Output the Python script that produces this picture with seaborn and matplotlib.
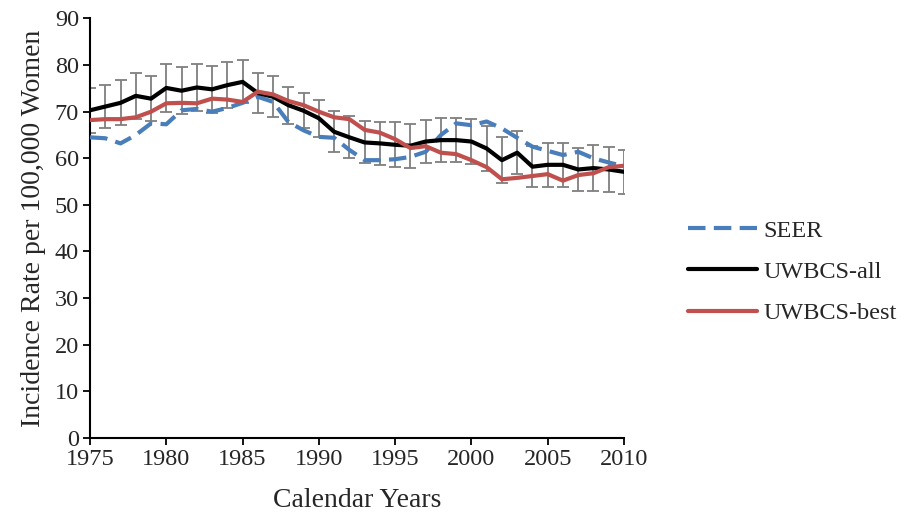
import numpy as np
import pandas as pd
import matplotlib
matplotlib.use("Agg")
import matplotlib.pyplot as plt
import seaborn as sns

years = list(range(1975, 2011))

seer = [64.5, 64.3, 63.2, 65.0, 67.5, 67.3, 70.3, 70.6, 70.0, 70.8, 71.9, 73.2,
        72.1, 67.8, 66.0, 64.6, 64.4, 61.8, 59.6, 59.6, 59.8, 60.3, 61.4, 65.0,
        67.5, 67.1, 67.9, 66.4, 64.4, 62.5, 61.6, 60.7, 61.4, 60.0, 59.1, 58.3]

uwbcs_all = [70.3, 71.1, 71.9, 73.4, 72.8, 75.1, 74.5, 75.2, 74.8, 75.7, 76.4, 74.0,
             73.2, 71.4, 70.2, 68.6, 65.7, 64.5, 63.4, 63.2, 62.9, 62.7, 63.6, 63.9,
             63.9, 63.6, 62.1, 59.6, 61.2, 58.2, 58.6, 58.6, 57.6, 57.9, 57.6, 57.1]

uwbcs_best = [68.2, 68.4, 68.4, 68.8, 70.0, 71.8, 71.9, 71.8, 72.8, 72.6, 72.1, 74.3,
              73.7, 72.3, 71.4, 70.0, 68.8, 68.4, 66.1, 65.5, 64.1, 62.2, 62.6, 61.2,
              60.9, 59.6, 58.1, 55.5, 55.8, 56.2, 56.6, 55.2, 56.4, 56.8, 58.1, 58.4]

uwbcs_all_err = [4.8, 4.7, 4.8, 4.9, 4.9, 5.1, 5.0, 5.0, 5.0, 4.9, 4.6, 4.3,
                 4.4, 4.0, 3.8, 4.0, 4.4, 4.5, 4.5, 4.6, 4.8, 4.7, 4.6, 4.7,
                 4.8, 4.8, 4.8, 4.9, 4.6, 4.4, 4.7, 4.7, 4.6, 4.9, 4.8, 4.7]

series_names = ["SEER", "UWBCS-all", "UWBCS-best"]
x_ticks = [1975, 1980, 1985, 1990, 1995, 2000, 2005, 2010]
y_ticks = list(range(0, 91, 10))

df = pd.DataFrame({
    "year": years * 3,
    "rate": seer + uwbcs_all + uwbcs_best,
    "series": [series_names[0]] * len(years) + [series_names[1]] * len(years) + [series_names[2]] * len(years),
})

sns.set_theme(style="white")
plt.rcParams['font.family'] = ['Liberation Serif', 'DejaVu Serif']

fig = plt.figure(figsize=(9.05, 5.16), dpi=100)
ax = fig.add_axes([90 / 905, 1 - 437.9 / 516, (624 - 90) / 905, (437.9 - 18.5) / 516])

# error bars on UWBCS-all
ax.errorbar(years, uwbcs_all, yerr=uwbcs_all_err, fmt='none', ecolor='#7f7f7f',
            elinewidth=1.3, capsize=4.5, capthick=1.3, zorder=1)

colors = {"SEER": "#4a7ebb", "UWBCS-all": "#000000", "UWBCS-best": "#c0504d"}
sns.lineplot(data=df[df.series == "SEER"], x="year", y="rate", ax=ax, color=colors["SEER"],
             linewidth=3.0, linestyle=(0, (4.2, 2.0)), label="SEER", zorder=3)
sns.lineplot(data=df[df.series == "UWBCS-all"], x="year", y="rate", ax=ax, color=colors["UWBCS-all"],
             linewidth=3.0, label="UWBCS-all", zorder=3)
sns.lineplot(data=df[df.series == "UWBCS-best"], x="year", y="rate", ax=ax, color=colors["UWBCS-best"],
             linewidth=3.0, label="UWBCS-best", zorder=4)

ax.set_xlim(1975, 2010)
ax.set_ylim(0, 90)
ax.set_xticks(x_ticks)
ax.set_yticks(y_ticks)
for s in ["top", "right"]:
    ax.spines[s].set_visible(False)
for s in ["left", "bottom"]:
    ax.spines[s].set_color("black")
    ax.spines[s].set_linewidth(1.5)
ax.tick_params(axis='both', which='major', direction='out', length=5, width=1.3,
               color='black', labelsize=17.5, pad=3, left=True, bottom=True)
ax.set_xlabel("Calendar Years", fontsize=20, labelpad=13)
ax.set_ylabel("Incidence Rate per 100,000 Women", fontsize=20, labelpad=6)

handles, labels = ax.get_legend_handles_labels()
ax.get_legend().remove()
fig.legend(handles, labels, loc='center left', bbox_to_anchor=(666 / 905, 1 - 272 / 516),
           frameon=False, fontsize=17.5, handlelength=2.85, labelspacing=0.8, handletextpad=0.25)

fig.savefig("out.png", dpi=100)
